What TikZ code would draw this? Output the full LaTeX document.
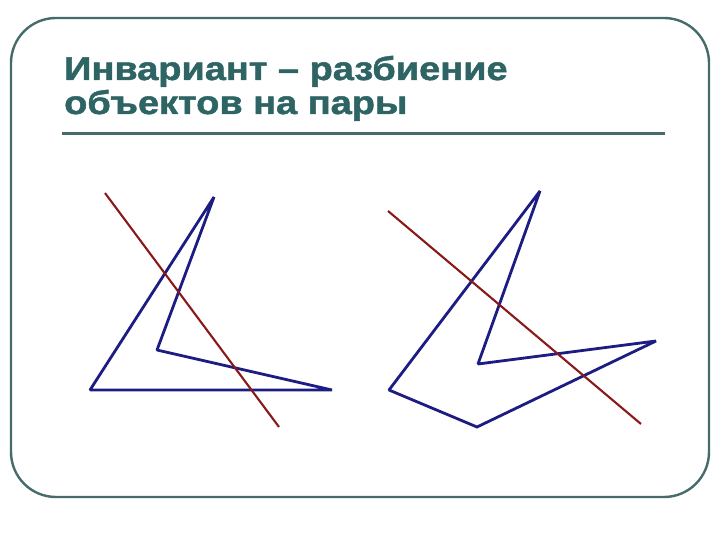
\documentclass[tikz,border=0pt]{standalone}
\usepackage{fontspec}
\setmainfont{Liberation Sans}
\newfontfamily\titlefont[FakeStretch=1.15,FakeBold=1.5]{Liberation Sans Bold}
\definecolor{frameC}{HTML}{456B6B}
\definecolor{titleC}{HTML}{2E6464}
\definecolor{polyC}{HTML}{1C1C82}
\definecolor{cutC}{HTML}{8A1818}
\tikzset{
  frame/.style={draw=frameC, line width=2.4pt, rounded corners=45pt},
  title/.style={anchor=base west, inner sep=0pt, text=titleC, font=\titlefont\fontsize{33}{36}\selectfont},
  poly/.style={draw=polyC, line width=2.8pt, line join=miter, miter limit=1.5},
  cut/.style={draw=cutC, line width=2.1pt},
}
\begin{document}
\begin{tikzpicture}[x=1pt,y=-1pt]
\useasboundingbox (0,0) rectangle (720,540);
\draw[frame] (11,18) rectangle (709,497);
\node[title] (t1) at (64,80) {Инвариант – разбиение};
\node[title] (t2) at (64,114) {объектов на пары};
\draw[draw=frameC, line width=3pt] (62,134) -- (665,134);
% left figure
\draw[poly] (90,390) -- (214,197) -- (157,350) -- (332,390) -- cycle;
\draw[cut] (105,193) -- (279,427);
% right figure
\draw[poly] (389,390) -- (540,191) -- (478,364) -- (656,341) -- (477,427) -- cycle;
\draw[cut] (388,211) -- (641,424);
\end{tikzpicture}
\end{document}
